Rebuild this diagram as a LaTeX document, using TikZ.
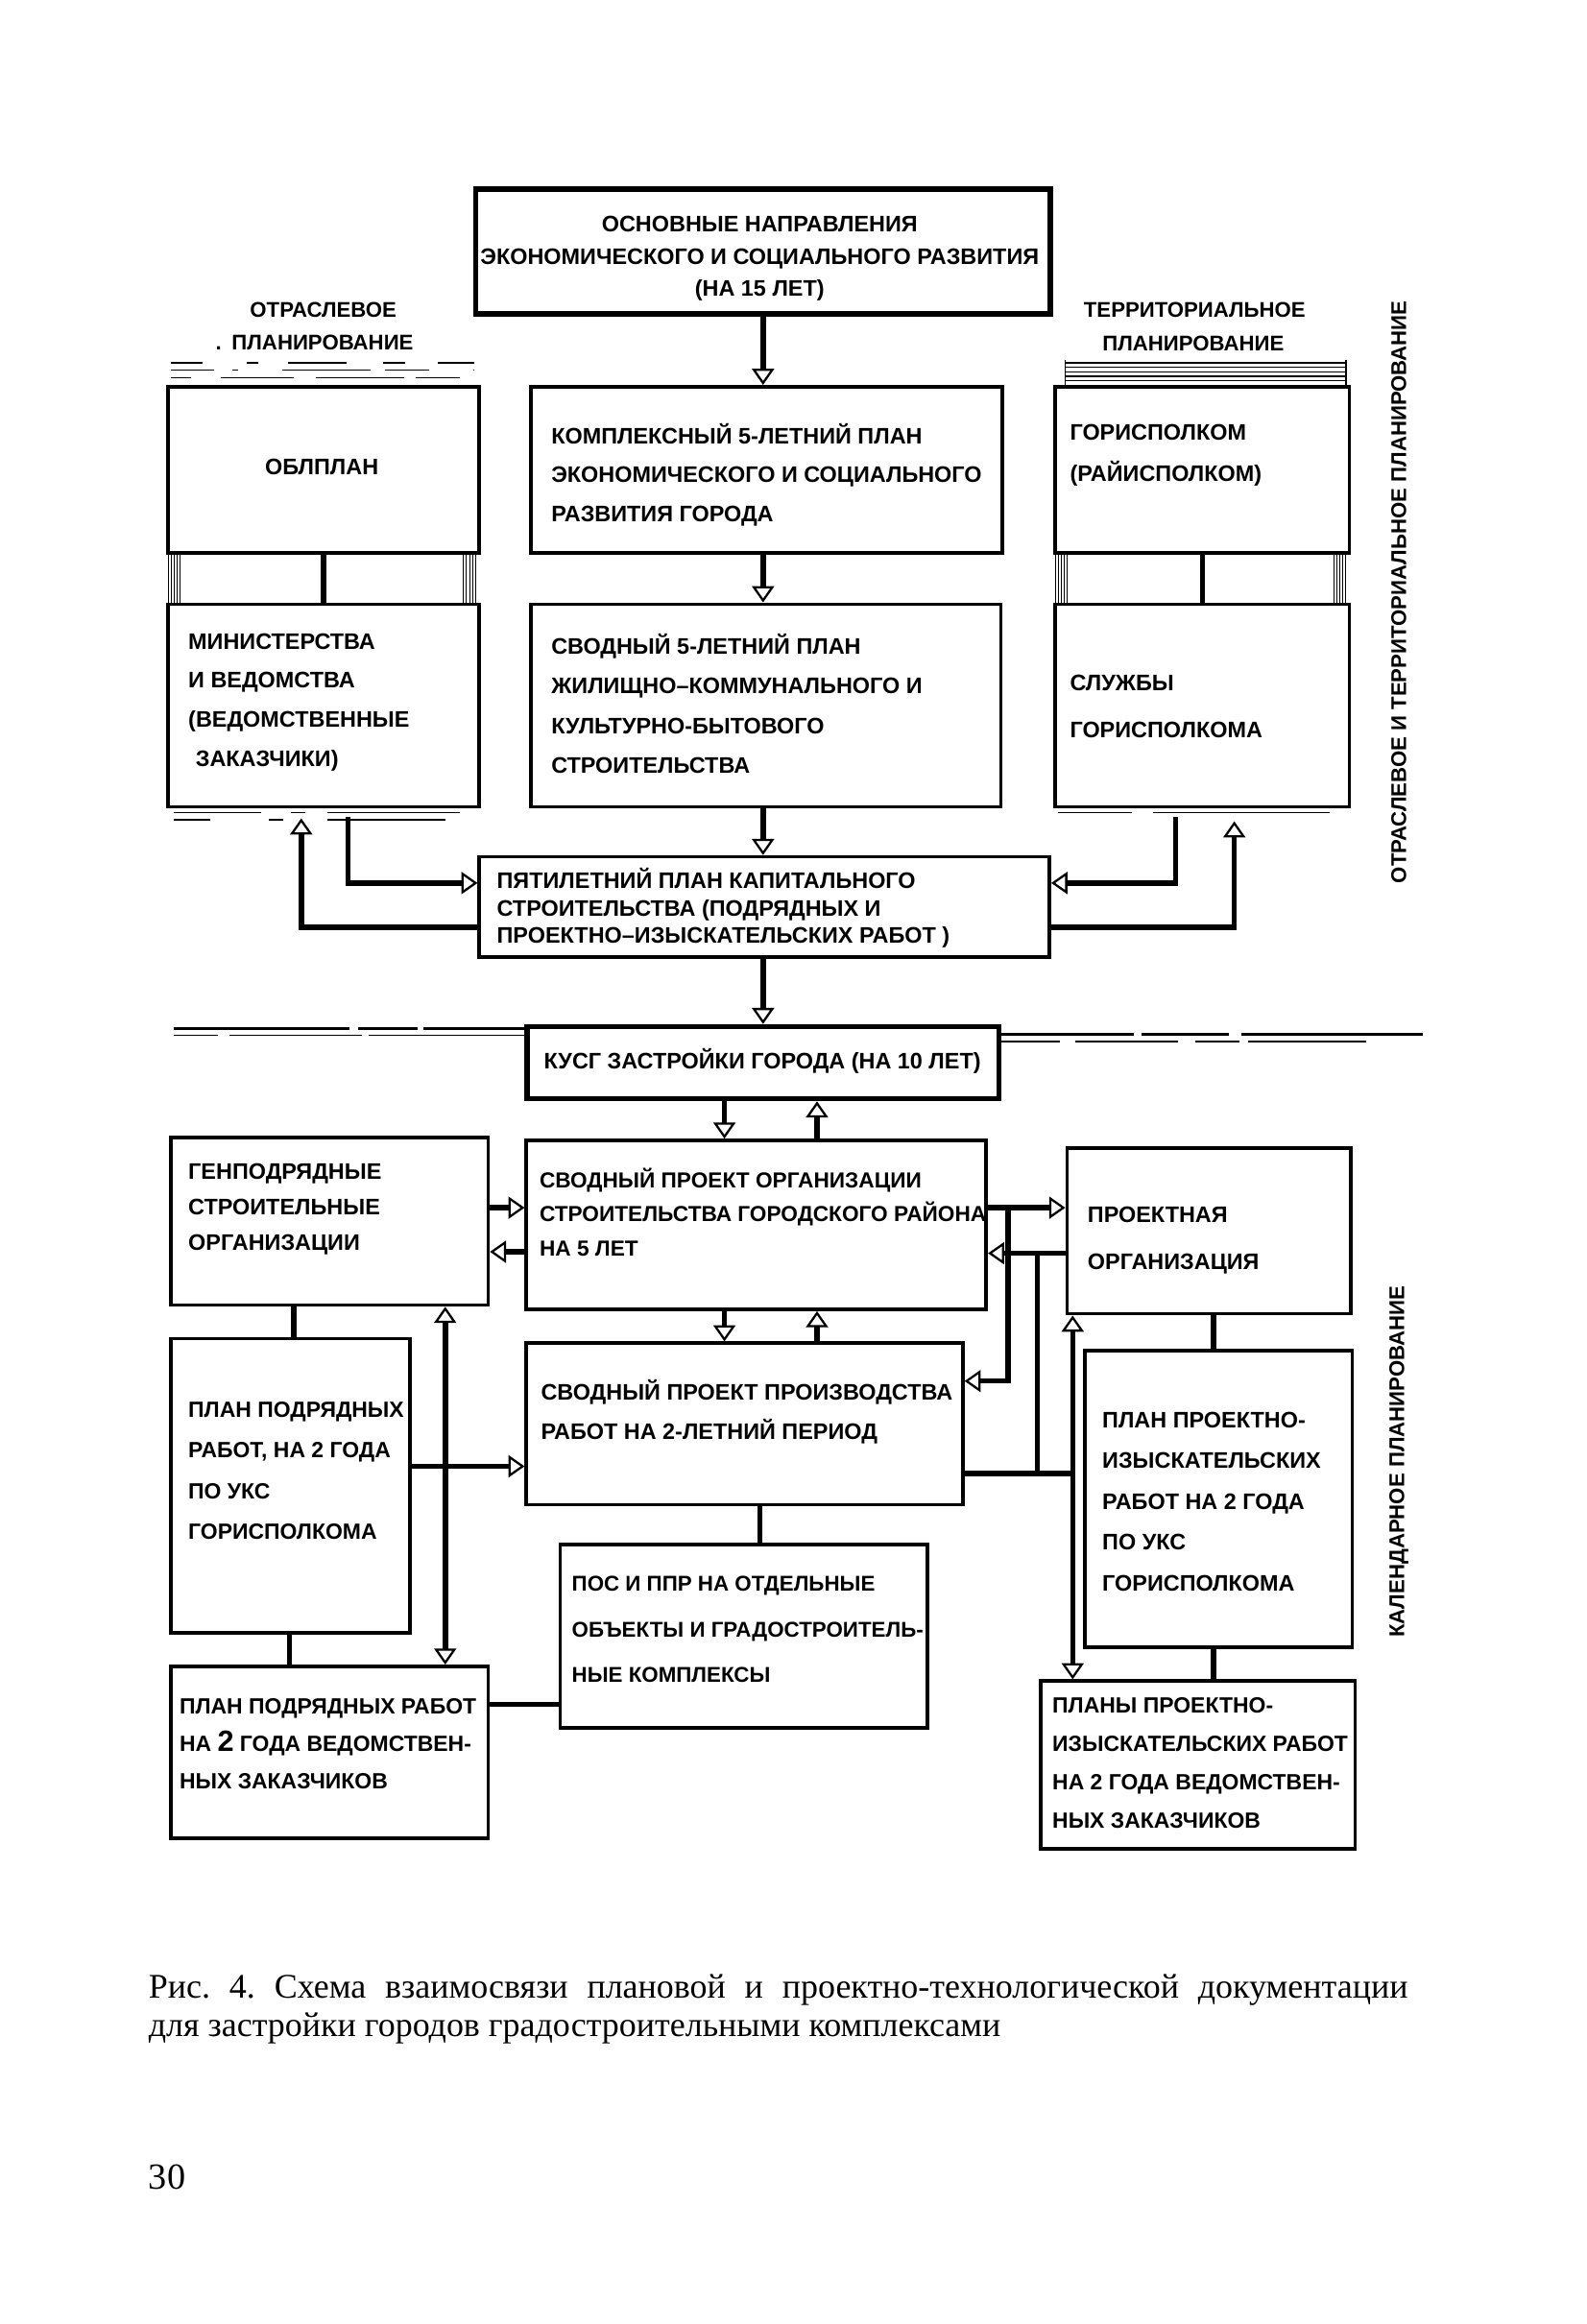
\documentclass[tikz,border=0pt]{standalone}
\usepackage{fontspec}
\setmainfont{Liberation Serif}
\newfontfamily\dg{Liberation Sans}
\usetikzlibrary{arrows.meta,calc}
\frenchspacing
\begin{document}
\begin{tikzpicture}[x=1pt,y=-1pt,
  box/.style={draw, line width=2.4pt, inner sep=0pt, anchor=north west},
  heavybox/.style={box, line width=3.6pt},
  txt/.style={font=\dg\bfseries\fontsize{15.3}{#1}\selectfont, align=left, anchor=west, inner sep=0pt},
  lab/.style={font=\dg\bfseries\fontsize{14.5}{16}\selectfont, inner sep=0pt},
  link/.style={line width=3.6pt},
  tip/.tip={Triangle[open,width=15pt,length=11pt,line width=1.5pt]},
  arr/.style={link,-tip},
  arr2/.style={link,tip-tip},
  hair/.style={line width=0.9pt},
  hatch/.style={line width=0.6pt}
]
\fill[white] (0,0) rectangle (1080,1581.8);
\useasboundingbox (0,0) rectangle (1080,1581.8);

% ---------- boxes ----------
\node[heavybox, minimum width=391pt, minimum height=85pt] (top) at (322,127) {};
\node[box, minimum width=321pt, minimum height=113pt] (kp) at (360,262) {};
\node[box, minimum width=320pt, minimum height=138pt] (sv5) at (360,410) {};
\node[box, minimum width=212pt, minimum height=113pt] (obl) at (113,262) {};
\node[box, minimum width=212pt, minimum height=138pt] (min) at (113,410) {};
\node[box, minimum width=200pt, minimum height=113pt] (gor) at (717,262) {};
\node[box, minimum width=200pt, minimum height=138pt] (sl) at (717,410) {};
\node[box, minimum width=388pt, minimum height=68pt] (p5) at (325,582) {};
\node[heavybox, minimum width=321pt, minimum height=49pt] (kusg) at (357,697) {};
\node[box, minimum width=216pt, minimum height=114pt] (gen) at (115,773) {};
\node[box, minimum width=313pt, minimum height=115pt] (spo) at (357,775) {};
\node[box, minimum width=193pt, minimum height=113pt] (po) at (725,780) {};
\node[box, minimum width=297pt, minimum height=110pt] (spp) at (357,913) {};
\node[box, minimum width=163pt, minimum height=200pt] (ppr) at (115,910) {};
\node[box, minimum width=250pt, minimum height=125pt] (pos) at (380,1050) {};
\node[box, minimum width=182pt, minimum height=202pt] (ppi) at (737,918) {};
\node[box, minimum width=216pt, minimum height=117pt] (bl) at (115,1133) {};
\node[box, minimum width=214pt, minimum height=114pt] (pl) at (707,1143) {};

% ---------- texts ----------
\node[txt=22, align=center, anchor=center] (ttop) at (517,176) {ОСНОВНЫЕ НАПРАВЛЕНИЯ\\ЭКОНОМИЧЕСКОГО И СОЦИАЛЬНОГО РАЗВИТИЯ\\(НА 15 ЛЕТ)};
\node[txt=26.5] (tkp) at (375,323) {КОМПЛЕКСНЫЙ 5-ЛЕТНИЙ ПЛАН\\ЭКОНОМИЧЕСКОГО И СОЦИАЛЬНОГО\\РАЗВИТИЯ ГОРОДА};
\node[txt=27] (tsv5) at (375,479) {СВОДНЫЙ 5-ЛЕТНИЙ ПЛАН\\ЖИЛИЩНО–КОММУНАЛЬНОГО И\\КУЛЬТУРНО-БЫТОВОГО\\СТРОИТЕЛЬСТВА};
\node[txt=18, anchor=center] (tobl) at (219,318) {ОБЛПЛАН};
\node[txt=26.7] (tmin) at (128,478) {МИНИСТЕРСТВА\\И ВЕДОМСТВА\\(ВЕДОМСТВЕННЫЕ\\\hspace*{5pt}ЗАКАЗЧИКИ)};
\node[txt=28] (tgor) at (728,310) {ГОРИСПОЛКОМ\\(РАЙИСПОЛКОМ)};
\node[txt=32] (tsl) at (728,481) {СЛУЖБЫ\\ГОРИСПОЛКОМА};
\node[txt=18.5] (tp5) at (338,618) {ПЯТИЛЕТНИЙ ПЛАН КАПИТАЛЬНОГО\\СТРОИТЕЛЬСТВА (ПОДРЯДНЫХ И\\ПРОЕКТНО–ИЗЫСКАТЕЛЬСКИХ РАБОТ )};
\node[txt=18] (tkusg) at (370,722) {КУСГ ЗАСТРОЙКИ ГОРОДА (НА 10 ЛЕТ)};
\node[txt=24] (tgen) at (128,823) {ГЕНПОДРЯДНЫЕ\\СТРОИТЕЛЬНЫЕ\\ОРГАНИЗАЦИИ};
\node[txt=23, font=\dg\bfseries\fontsize{14.8}{23}\selectfont] (tspo) at (367,825) {СВОДНЫЙ ПРОЕКТ ОРГАНИЗАЦИИ\\СТРОИТЕЛЬСТВА ГОРОДСКОГО РАЙОНА\\НА 5 ЛЕТ};
\node[txt=32] (tpo) at (740,844) {ПРОЕКТНАЯ\\ОРГАНИЗАЦИЯ};
\node[txt=27] (tspp) at (368,961) {СВОДНЫЙ ПРОЕКТ ПРОИЗВОДСТВА\\РАБОТ НА 2-ЛЕТНИЙ ПЕРИОД};
\node[txt=27.7, font=\dg\bfseries\fontsize{15}{27.7}\selectfont] (tppr) at (128,1001) {ПЛАН ПОДРЯДНЫХ\\РАБОТ, НА 2 ГОДА\\ПО УКС\\ГОРИСПОЛКОМА};
\node[txt=31, font=\dg\bfseries\fontsize{14.6}{31}\selectfont] (tpos) at (389,1109) {ПОС И ППР НА ОТДЕЛЬНЫЕ\\ОБЪЕКТЫ И ГРАДОСТРОИТЕЛЬ-\\НЫЕ КОМПЛЕКСЫ};
\node[txt=27.7] (tppi) at (750,1022) {ПЛАН ПРОЕКТНО-\\ИЗЫСКАТЕЛЬСКИХ\\РАБОТ НА 2 ГОДА\\ПО УКС\\ГОРИСПОЛКОМА};
\node[txt=25.5, font=\dg\bfseries\fontsize{15}{25.5}\selectfont] (tbl) at (122,1187) {ПЛАН ПОДРЯДНЫХ РАБОТ\\НА {\fontsize{20}{20}\selectfont 2} ГОДА ВЕДОМСТВЕН-\\НЫХ ЗАКАЗЧИКОВ};
\node[txt=26.3, font=\dg\bfseries\fontsize{15}{26.3}\selectfont] (tpl) at (716,1200) {ПЛАНЫ ПРОЕКТНО-\\ИЗЫСКАТЕЛЬСКИХ РАБОТ\\НА 2 ГОДА ВЕДОМСТВЕН-\\НЫХ ЗАКАЗЧИКОВ};

% ---------- headings ----------
\node[lab] (hl1) at (220,211) {ОТРАСЛЕВОЕ};
\node[lab] (hl2) at (214,233) {.\hspace{7pt}ПЛАНИРОВАНИЕ};
\node[lab] (hr1) at (813,211) {ТЕРРИТОРИАЛЬНОЕ};
\node[lab] (hr2) at (812,234) {ПЛАНИРОВАНИЕ};
\node[lab, rotate=90] (vt1) at (952,403) {ОТРАСЛЕВОЕ И ТЕРРИТОРИАЛЬНОЕ ПЛАНИРОВАНИЕ};
\node[lab, rotate=90] (vt2) at (952,995) {КАЛЕНДАРНОЕ ПЛАНИРОВАНИЕ};

% ---------- caption ----------
\node[anchor=base west, inner sep=0pt, font=\fontsize{23.5}{23.5}\selectfont] (cap1) at (101,1360)
  {\makebox[857pt][s]{Рис. 4. Схема взаимосвязи плановой и проектно-технологической документации}};
\node[anchor=base west, inner sep=0pt, font=\fontsize{23.5}{23.5}\selectfont] (cap2) at (101,1386)
  {для застройки городов градостроительными комплексами};
\node[anchor=base west, inner sep=0pt, font=\fontsize{25}{25}\selectfont] (pg) at (101,1490) {30};

% ---------- decorations: broken rules and hatching ----------
\draw[hair, dash pattern=on 22pt off 30pt on 8pt off 20pt on 40pt off 25pt on 15pt] (116,247) -- (323,247);
\draw[hair, dash pattern=on 30pt off 12pt on 4pt off 30pt on 60pt off 10pt on 30pt] (116,252) -- (323,252);
\draw[hair, dash pattern=on 14pt off 20pt on 50pt off 15pt on 60pt off 8pt on 30pt] (116,257) -- (323,257);
\foreach \yy in {247,250,253,256,259} \draw[hair] (725,\yy) -- (916,\yy);
\draw[hair] (725,245) -- (725,262); \draw[hair] (916,245) -- (916,262);
\draw[hair, dash pattern=on 60pt off 20pt on 10pt off 15pt on 90pt] (118,553) -- (320,553);
\draw[hair, dash pattern=on 25pt off 40pt on 10pt off 30pt on 80pt] (118,558) -- (320,558);
\draw[hair, dash pattern=on 50pt off 15pt on 120pt] (720,553) -- (915,553);
\foreach \xx in {114.5,116.5,...,123} \draw[hatch] (\xx,375) -- (\xx,410);
\foreach \xx in {315.5,317.5,...,324} \draw[hatch] (\xx,375) -- (\xx,410);
\foreach \xx in {718.5,720.5,...,727} \draw[hatch] (\xx,375) -- (\xx,410);
\foreach \xx in {907.5,909.5,...,916} \draw[hatch] (\xx,375) -- (\xx,410);
\draw[line width=1.6pt, dash pattern=on 120pt off 6pt on 40pt off 4pt on 80pt] (118,700) -- (kusg.north west |- 0,700);
\draw[hair, dash pattern=on 30pt off 8pt on 90pt off 5pt on 110pt] (118,704.5) -- (kusg.north west |- 0,704.5);
\draw[line width=1.6pt, dash pattern=on 90pt off 5pt on 60pt off 8pt on 150pt] (kusg.north east |- 0,704) -- (968,704);
\draw[hair, dash pattern=on 40pt off 10pt on 70pt off 12pt on 30pt off 6pt on 80pt] (kusg.north east |- 0,709) -- (968,709);

% ---------- connectors ----------
\draw[arr] (top.south) -- (top.south |- kp.north);
\draw[arr] (kp.south -| top.south) -- (sv5.north -| top.south);
\draw[arr] (sv5.south -| top.south) -- (p5.north -| top.south);
\draw[arr] (p5.south -| top.south) -- (kusg.north -| top.south);

\draw[link] (obl.south) -- (min.north);
\draw[link] (gor.south) -- (sl.north);

\coordinate (mA) at (205,557);
\coordinate (mB) at (237,556);
\coordinate (sA) at (800,556);
\coordinate (sB) at (840,559);
\draw[arr] (p5.west |- 0,631) -| (mA);
\draw[arr] (mB) |- (p5.west |- 0,601);
\draw[arr] (sA) |- (p5.east |- 0,601);
\draw[arr] (p5.east |- 0,631) -| (sB);

\draw[arr] (kusg.south -| 493,0) -- (spo.north -| 493,0);
\draw[arr] (spo.north -| 556,0) -- (kusg.south -| 556,0);
\draw[arr] (spo.south -| 493,0) -- (spp.north -| 493,0);
\draw[arr] (spp.north -| 556,0) -- (spo.south -| 556,0);

\draw[arr] (gen.east |- 0,822) -- (spo.west |- 0,822);
\draw[arr] (spo.west |- 0,852) -- (gen.east |- 0,852);
\draw[arr] (spo.east |- 0,822) -- (po.west |- 0,822);
\draw[arr] (po.west |- 0,853) -- (spo.east |- 0,853);

\coordinate (j1) at (686,822);
\coordinate (j2) at (706,853);
\coordinate (j3) at (730,1003);
\draw[arr] (j1) |- (spp.east |- 0,940);
\draw[link] (j2) |- (j3);
\draw[link] (spp.east |- 0,1003) -- (j3);
\draw[arr2] (po.south -| 730,0) -- (pl.north -| 730,0);
\draw[link] (po.south -| 826,0) -- (ppi.north -| 826,0);
\draw[link] (ppi.south -| 826,0) -- (pl.north -| 826,0);

\draw[link] (gen.south -| 200,0) -- (ppr.north -| 200,0);
\draw[link] (ppr.south -| 197,0) -- (bl.north -| 197,0);
\draw[arr2] (gen.south -| 303,0) -- (bl.north -| 303,0);
\draw[arr] (ppr.east |- 0,998) -- (spp.west |- 0,998);
\draw[link] (spp.south -| 517,0) -- (pos.north -| 517,0);
\draw[link] (bl.east |- 0,1160) -- (pos.west |- 0,1160);
\end{tikzpicture}
\end{document}
